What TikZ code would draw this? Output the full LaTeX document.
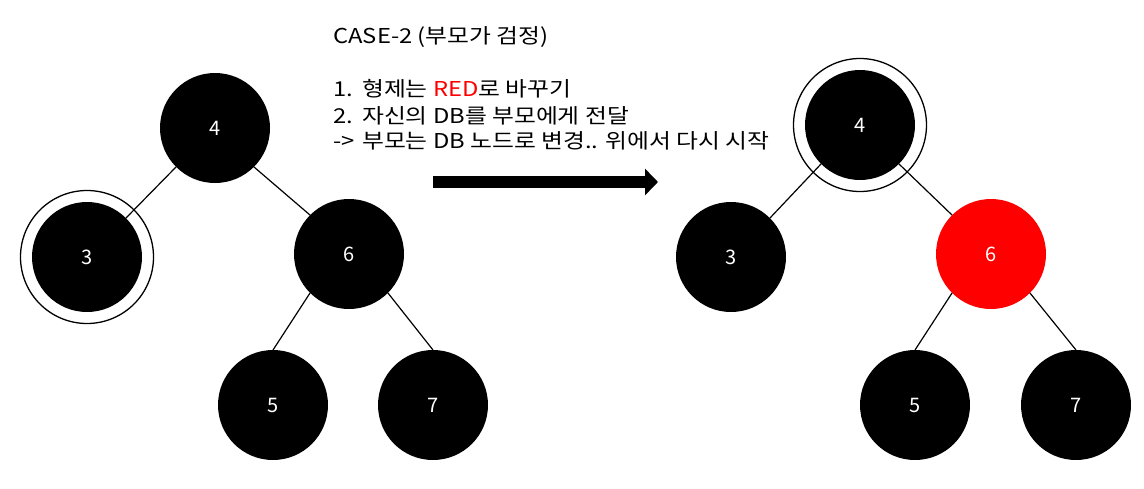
\documentclass[tikz,border=0pt]{standalone}
\usepackage{fontspec}
\usepackage{graphicx}
\setmainfont{Noto Sans CJK KR}
\usetikzlibrary{arrows.meta}
\newcommand{\wide}[1]{\scalebox{1.16}[1]{#1}}
\begin{document}
\begin{tikzpicture}[x=1pt,y=-1pt,
  blk/.style={circle, fill=black, minimum size=110pt, inner sep=0pt, outer sep=0pt, text=white, font=\fontsize{20}{22}\selectfont},
  rednode/.style={blk, fill=red},
  ring/.style={circle, draw=black, line width=1.3pt, minimum size=133pt, inner sep=0pt, outer sep=0pt},
  edge/.style={line width=1.2pt},
  txt/.style={anchor=base west, inner sep=0pt, font=\fontsize{20.5}{22}\selectfont}
]
\useasboundingbox (0,0) rectangle (1144,488);
% left tree
\node[ring] (Lr3) at (87,257) {};
\node[blk] (L4) at (215,128) {4};
\node[blk] (L3) at (87,257) {3};
\node[blk] (L6) at (349,254) {6};
\node[blk] (L5) at (273,405) {5};
\node[blk] (L7) at (433,405) {7};
\draw[edge] (L4.-135) -- (L3.45);
\draw[edge] (L4.-45) -- (L6.135);
\draw[edge] (L6.-135) -- (L5.90);
\draw[edge] (L6.-45) -- (L7.90);
% right tree
\node[ring] (Rr4) at (860,125) {};
\node[blk] (R4) at (860,125) {4};
\node[blk] (R3) at (731,257) {3};
\node[rednode] (R6) at (991,254) {6};
\node[blk] (R5) at (915,405) {5};
\node[blk] (R7) at (1076,405) {7};
\draw[edge] (R4.-135) -- (R3.45);
\draw[edge] (R4.-45) -- (R6.135);
\draw[edge] (R6.-135) -- (R5.90);
\draw[edge] (R6.-45) -- (R7.90);
% arrow
\coordinate (a1) at (433,182);
\coordinate (a2) at (658,182);
\draw[line width=12pt, -{Triangle[width=26pt,length=13pt]}] (a1) -- (a2);
% text
\node[txt] (t0) at (333,43) {\wide{CASE-2 (부모가 검정)}};
\node[txt] (n1) at (333,96) {\wide{1.}};
\node[txt] (t1) at (362,96) {\wide{형제는 \textcolor{red}{RED}로 바꾸기}};
\node[txt] (n2) at (333,123) {\wide{2.}};
\node[txt] (t2) at (362,123) {\wide{자신의 DB를 부모에게 전달}};
\node[txt] (n3) at (333,148) {\wide{->}};
\node[txt] (t3) at (362,148) {\wide{부모는 DB 노드로 변경.. 위에서 다시 시작}};
\end{tikzpicture}
\end{document}
